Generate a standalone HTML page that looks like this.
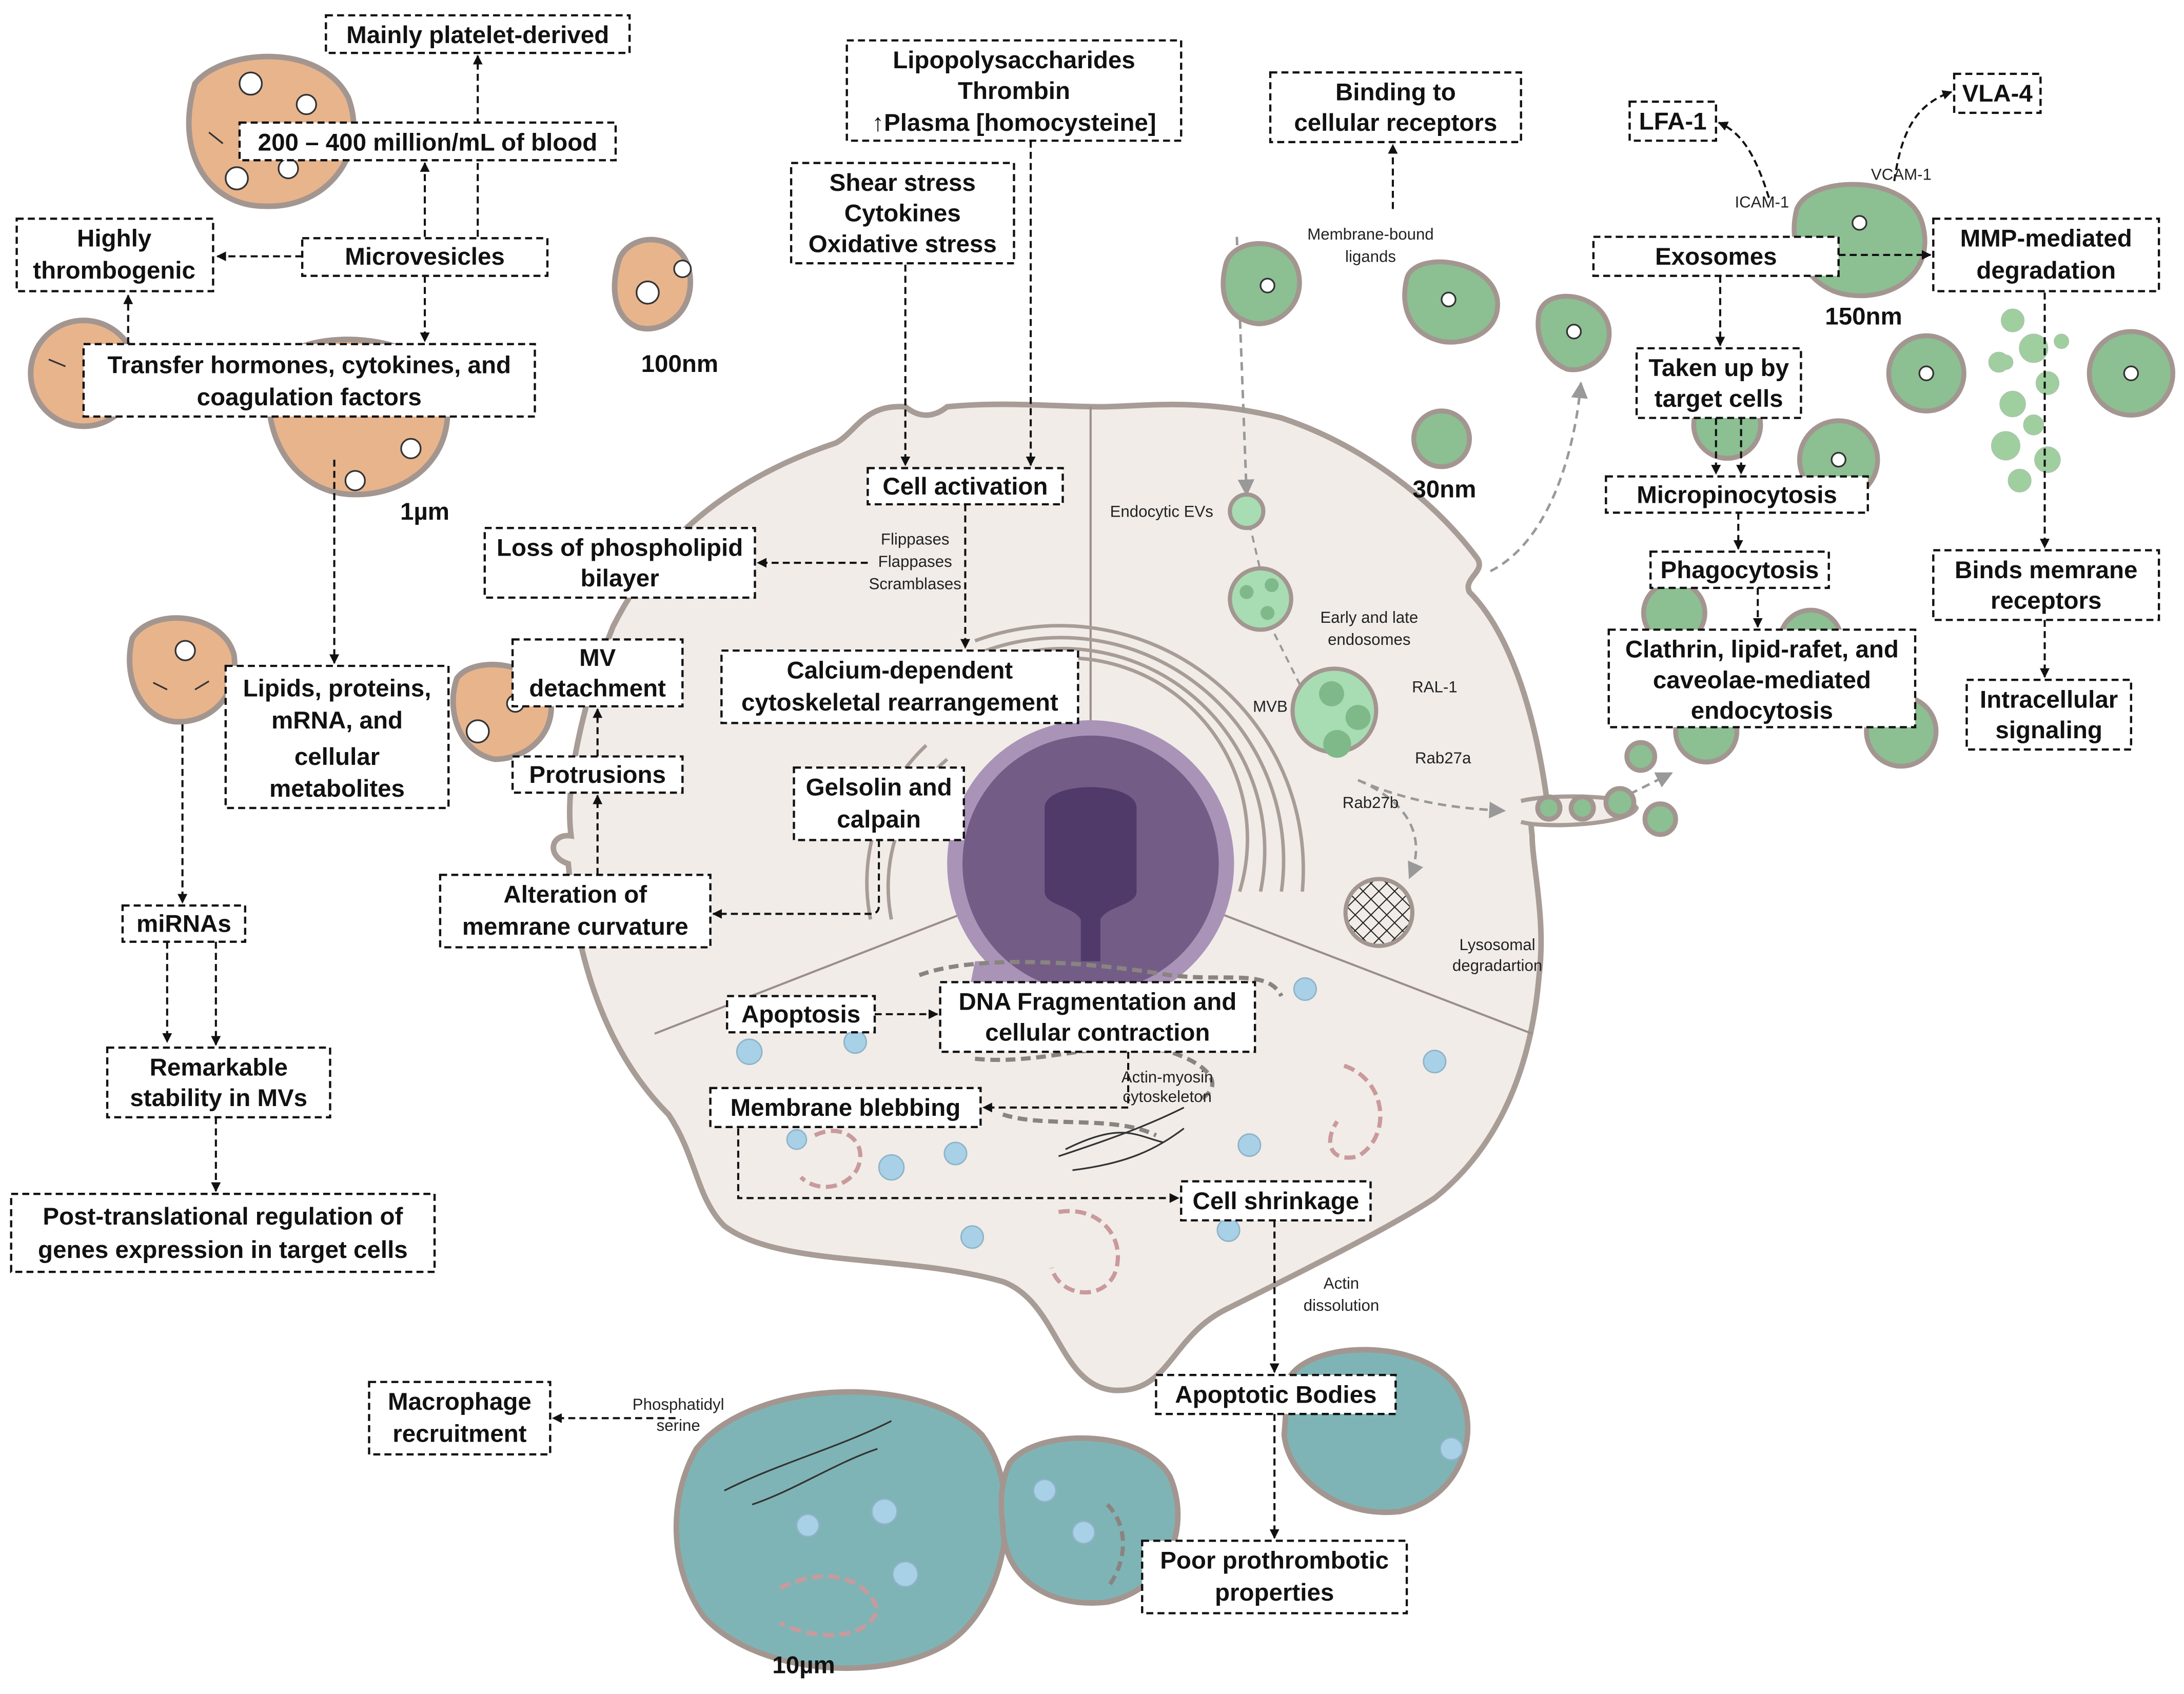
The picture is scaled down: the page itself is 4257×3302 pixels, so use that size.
<!DOCTYPE html>
<html><head><meta charset="utf-8"><style>
html,body{margin:0;padding:0;background:#fff}
svg{display:block}
.b{fill:#fff;stroke:#111;stroke-width:1.6;stroke-dasharray:5 3}
.t{font-family:"Liberation Sans",sans-serif;font-weight:bold;font-size:17.5px;fill:#111;text-anchor:middle}
.s{font-family:"Liberation Sans",sans-serif;font-size:11.5px;fill:#222;text-anchor:middle}
.a{fill:none;stroke:#111;stroke-width:1.5;stroke-dasharray:5 3}
.g{fill:none;stroke:#999;stroke-width:1.8;stroke-dasharray:6 4}
.o{fill:#e8b48c;stroke:#a39690;stroke-width:4}
.gr{fill:#8cbf92;stroke:#a39690;stroke-width:3.5}
.tl{fill:#7fb4b6;stroke:#a39690;stroke-width:4}
.ln{stroke:#333;stroke-width:1.2;fill:none}
</style></head><body>
<svg width="4257" height="3302" viewBox="0 0 1568 1216" preserveAspectRatio="none" xmlns="http://www.w3.org/2000/svg">
<defs>
<marker id="m" viewBox="0 0 10 10" refX="9" refY="5" markerWidth="7" markerHeight="7" orient="auto" markerUnits="userSpaceOnUse"><path d="M0,0L10,5L0,10z" fill="#111"/></marker>
<marker id="mg" viewBox="0 0 10 10" refX="9" refY="5" markerWidth="12" markerHeight="12" orient="auto" markerUnits="userSpaceOnUse"><path d="M0,0L10,5L0,10z" fill="#999"/></marker>
<pattern id="hx" width="8" height="8" patternUnits="userSpaceOnUse" patternTransform="rotate(45)"><path d="M0,0H8M0,0V8" stroke="#222" stroke-width="1.5"/></pattern>
</defs>

<!-- main cell -->
<path d="M650,292 C620,290 615,310 600,318 C520,345 470,390 440,450 C420,500 405,560 410,600 C395,598 392,615 408,620 C415,700 440,760 480,800 C500,830 500,860 520,880 C560,910 650,900 720,920 C760,935 760,995 800,998 C840,1000 840,960 880,940 C940,910 1000,880 1030,860 C1080,820 1100,760 1105,700 C1110,660 1100,620 1100,600 C1098,585 1100,580 1110,582 L1110,570 C1100,500 1080,450 1055,425 C1050,415 1068,410 1060,400 C1030,360 980,320 920,300 C860,285 820,292 790,292 C760,292 720,288 680,292 C670,300 660,300 650,292 Z" fill="#f1ece8" stroke="#a89c96" stroke-width="4"/>
<!-- right notch channel -->
<path d="M1092,575 C1110,570 1170,570 1175,580 C1170,592 1110,595 1092,590" fill="#f1ece8" stroke="#a89c96" stroke-width="3"/>
<!-- dividing lines -->
<line x1="783" y1="292" x2="783" y2="620" stroke="#9a8e88" stroke-width="1.5"/>
<line x1="783" y1="620" x2="470" y2="742" stroke="#9a8e88" stroke-width="1.5"/>
<line x1="783" y1="620" x2="1100" y2="742" stroke="#9a8e88" stroke-width="1.5"/>
<!-- golgi arcs -->
<g fill="none" stroke="#a89c96" stroke-width="2.5">
<path d="M700,490 A130,130 0 0 1 890,640"/><path d="M700,480 A145,145 0 0 1 905,640"/>
<path d="M700,470 A160,160 0 0 1 920,640"/><path d="M700,460 A175,175 0 0 1 935,640"/>
<path d="M680,545 A120,120 0 0 0 640,660"/><path d="M665,535 A135,135 0 0 0 625,660"/>
</g>
<!-- nucleus -->
<g>
<path d="M700,690 l-5,25 15,-10 5,25 12,-15 8,25 10,-20 12,22 10,-22 12,22 10,-22 12,18 8,-25 14,15 2,-25 15,12 -5,-25z" fill="#a994b8"/>
<circle cx="783" cy="620" r="103" fill="#a994b8"/>
<circle cx="783" cy="620" r="92" fill="#735d87"/>
<path d="M750,580 C750,560 816,560 816,580 L816,640 C816,650 795,650 790,660 L790,690 L776,690 L776,660 C770,650 750,650 750,640z" fill="#4f3a6a"/>
</g>
<!-- endosomes etc -->
<line x1="895" y1="367" x2="905" y2="410" stroke="#999" stroke-width="1.5" stroke-dasharray="5 4"/>
<circle cx="895" cy="367" r="12" fill="#a8dcb2" stroke="#a39690" stroke-width="3"/>
<path d="M888,170 L895,355" class="g" marker-end="url(#mg)" transform="rotate(0)"/>
<circle cx="905" cy="430" r="22" fill="#a8dcb2" stroke="#a39690" stroke-width="3"/>
<circle cx="895" cy="425" r="5" fill="#7fb98a"/><circle cx="913" cy="420" r="5" fill="#7fb98a"/><circle cx="910" cy="440" r="5" fill="#7fb98a"/>
<line x1="915" y1="455" x2="935" y2="495" stroke="#999" stroke-width="1.5" stroke-dasharray="5 4"/>
<circle cx="958" cy="510" r="30" fill="#a8dcb2" stroke="#a39690" stroke-width="3"/>
<circle cx="956" cy="498" r="9" fill="#7fb98a"/><circle cx="975" cy="515" r="9" fill="#7fb98a"/><circle cx="960" cy="534" r="10" fill="#7fb98a"/>
<circle cx="990" cy="655" r="24" fill="url(#hx)" stroke="#a39690" stroke-width="3"/>
<path d="M975,560 C1010,575 1040,580 1080,582" class="g" marker-end="url(#mg)"/>
<path d="M975,560 C1010,575 1025,600 1012,630" class="g" marker-end="url(#mg)"/>
<path d="M1070,410 C1110,390 1130,330 1135,275" class="g" marker-end="url(#mg)"/>
<!-- small vesicles in notch -->
<circle cx="1112" cy="580" r="8" class="gr" stroke-width="2"/><circle cx="1136" cy="580" r="8" class="gr" stroke-width="2"/>
<circle cx="1163" cy="576" r="10" class="gr" stroke-width="2"/><circle cx="1192" cy="588" r="11" class="gr" stroke-width="2"/>
<circle cx="1178" cy="543" r="10" class="gr" stroke-width="2"/>
<path d="M1170,570 L1200,555" class="g" marker-end="url(#mg)"/>
<!-- blue dots & pink dashed organelles -->
<g fill="#a8d0e6" stroke="#8fb3c8" stroke-width="1">
<circle cx="538" cy="755" r="9"/><circle cx="614" cy="748" r="8"/><circle cx="572" cy="818" r="7"/><circle cx="640" cy="838" r="9"/><circle cx="686" cy="828" r="8"/>
<circle cx="937" cy="710" r="8"/><circle cx="1030" cy="762" r="8"/><circle cx="897" cy="822" r="8"/><circle cx="882" cy="883" r="8"/><circle cx="698" cy="888" r="8"/>
</g>
<g fill="none" stroke="#c99a9c" stroke-width="3" stroke-dasharray="8 4">
<path d="M585,815 c20,-10 40,5 30,25 c-10,15 -30,15 -40,5"/><path d="M965,765 c30,10 35,50 10,65 c-20,5 -25,-10 -15,-25"/>
<path d="M760,870 c30,-5 50,20 40,45 c-10,20 -40,15 -45,-5"/>
</g>
<g fill="none" stroke="#8a8480" stroke-width="3" stroke-dasharray="7 4">
<path d="M660,700 c40,-15 120,-10 180,0 c40,5 70,-5 80,15"/><path d="M700,760 c50,5 90,-15 140,-5 c30,10 40,25 20,35"/><path d="M720,800 c30,10 80,0 110,15"/>
</g>
<path d="M760,830 c30,-10 60,-20 90,-35 M770,840 c40,-5 60,-15 80,-30 M765,825 c40,-20 50,-10 70,-5" class="ln" stroke="#7a9a88"/>

<!-- orange microvesicles -->
<path d="M140,60 C160,35 230,30 250,70 C265,110 235,150 190,148 C150,148 125,110 140,60Z" class="o"/>
<circle cx="60" cy="268" r="38" class="o"/>
<path d="M195,265 C210,235 300,235 318,275 C332,320 300,355 255,355 C210,355 185,310 195,265Z" class="o"/>
<path d="M445,185 C455,165 490,168 495,195 C500,225 475,240 458,235 C440,228 438,205 445,185Z" class="o"/>
<path d="M95,458 C110,435 160,440 168,470 C172,500 150,520 125,518 C100,515 88,485 95,458Z" class="o"/>
<path d="M328,487 C340,470 385,475 395,500 C400,525 380,545 355,545 C330,540 320,510 328,487Z" class="o"/>
<g class="ln"><circle cx="180" cy="60" r="8" fill="#fff"/><circle cx="220" cy="75" r="7" fill="#fff"/><circle cx="170" cy="128" r="8" fill="#fff"/><circle cx="207" cy="121" r="7" fill="#fff"/>
<circle cx="465" cy="210" r="8" fill="#fff"/><circle cx="490" cy="193" r="6" fill="#fff"/><circle cx="255" cy="345" r="7" fill="#fff"/><circle cx="295" cy="322" r="7" fill="#fff"/><circle cx="133" cy="467" r="7" fill="#fff"/><circle cx="343" cy="525" r="8" fill="#fff"/><circle cx="370" cy="505" r="6" fill="#fff"/>
<path d="M150,95 l10,8 M225,100 l8,-8 M110,490 l10,5 M140,495 l10,-6 M35,258 l12,5"/></g>

<!-- green exosomes -->
<g>
<path d="M880,190 C885,170 925,168 932,195 C938,220 915,235 900,232 C880,228 875,210 880,190Z" class="gr"/>
<path d="M1010,200 C1015,180 1070,185 1075,215 C1078,240 1050,248 1035,245 C1012,240 1005,220 1010,200Z" class="gr"/>
<path d="M1105,225 C1110,205 1150,210 1155,235 C1158,255 1140,268 1125,265 C1108,258 1102,240 1105,225Z" class="gr"/>
<circle cx="1035" cy="315" r="20" class="gr"/>
<path d="M1290,150 C1300,125 1370,125 1380,160 C1390,195 1360,215 1330,212 C1300,210 1282,180 1290,150Z" class="gr"/>
<circle cx="1383" cy="268" r="27" class="gr"/><circle cx="1530" cy="268" r="30" class="gr"/>
<circle cx="1320" cy="330" r="28" class="gr"/><circle cx="1240" cy="305" r="24" class="gr"/>
<circle cx="1202" cy="440" r="22" class="gr"/><circle cx="1300" cy="460" r="22" class="gr"/><circle cx="1225" cy="525" r="22" class="gr"/><circle cx="1365" cy="525" r="25" class="gr"/>
</g>
<g fill="#9fcf9f" stroke="#a8c8a8" stroke-width="1">
<circle cx="1445" cy="230" r="8"/><circle cx="1460" cy="250" r="10"/><circle cx="1435" cy="260" r="7"/><circle cx="1470" cy="275" r="8"/><circle cx="1445" cy="290" r="9"/><circle cx="1460" cy="305" r="7"/>
<circle cx="1440" cy="320" r="10"/><circle cx="1470" cy="330" r="9"/><circle cx="1450" cy="345" r="8"/><circle cx="1440" cy="260" r="5"/><circle cx="1480" cy="245" r="5"/>
</g>
<g class="ln" stroke="#333"><circle cx="910" cy="205" r="5" fill="#fff"/><circle cx="1040" cy="215" r="5" fill="#fff"/><circle cx="1130" cy="238" r="5" fill="#fff"/><circle cx="1335" cy="160" r="5" fill="#fff"/><circle cx="1320" cy="330" r="5" fill="#fff"/><circle cx="1530" cy="268" r="5" fill="#fff"/><circle cx="1383" cy="268" r="5" fill="#fff"/></g>

<!-- apoptotic bodies -->
<path d="M500,1040 C540,990 660,985 705,1030 C735,1070 725,1150 680,1180 C630,1210 540,1200 505,1160 C480,1125 480,1075 500,1040Z" class="tl"/>
<path d="M725,1050 C745,1025 820,1025 840,1060 C855,1095 840,1140 795,1150 C750,1155 720,1130 720,1095 C718,1080 718,1065 725,1050Z" class="tl"/>
<path d="M925,990 C940,962 1020,960 1045,995 C1065,1025 1050,1075 1005,1085 C960,1090 925,1060 922,1030Z" class="tl"/>
<g fill="#a8d0e6" stroke="#8fb3c8"><circle cx="635" cy="1085" r="9"/><circle cx="580" cy="1095" r="8"/><circle cx="650" cy="1130" r="9"/><circle cx="750" cy="1070" r="8"/><circle cx="778" cy="1100" r="8"/><circle cx="1042" cy="1040" r="8"/></g>
<path d="M560,1140 c30,-15 60,-10 70,15 c-5,20 -40,25 -70,10" fill="none" stroke="#c99a9c" stroke-width="3" stroke-dasharray="8 4"/>
<path d="M795,1080 c15,15 15,40 0,60" fill="none" stroke="#8a8480" stroke-width="3" stroke-dasharray="7 4"/>
<path d="M520,1070 c40,-20 80,-30 120,-50 M540,1080 c30,-10 60,-30 90,-40" class="ln" stroke="#667"/>

<!-- connector arrows (black dashed) -->
<g class="a" marker-end="url(#m)">
<path d="M343,170 V40"/>
<path d="M305,170 V117"/>
<path d="M217,184 H156"/>
<path d="M305,198 V245"/>
<path d="M92,247 V212"/>
<path d="M240,330 V476"/>
<path d="M131,520 V648"/>
<path d="M155,676 V750"/>
<path d="M120,676 V748"/>
<path d="M155,802 V855"/>
<path d="M650,190 V334"/>
<path d="M740,101 V334"/>
<path d="M693,362 V465"/>
<path d="M623,404 H544"/>
<path d="M429,543 V509"/>
<path d="M429,628 V571"/>
<path d="M631,603 V650 Q631,656 625,656 H512"/>
<path d="M628,728 H673"/>
<path d="M810,755 V795 H706"/>
<path d="M530,810 V860 H846"/>
<path d="M915,876 V985"/>
<path d="M915,1015 V1104"/>
<path d="M485,1018 H397"/>
<path d="M1000,150 V104"/>
<path d="M1320,183 H1386"/>
<path d="M1235,198 V248"/>
<path d="M1232,300 V340"/>
<path d="M1250,300 V340" />
<path d="M1248,368 V394"/>
<path d="M1262,422 V450"/>
<path d="M1468,210 V393"/>
<path d="M1468,445 V486"/>
</g>
<path d="M1270,142 C1260,110 1250,95 1234,88" class="a" marker-end="url(#m)"/>
<path d="M1360,130 C1365,95 1375,75 1401,66" class="a" marker-end="url(#m)"/>

<!-- boxes -->
<g>
<rect class="b" x="234" y="11" width="218" height="27"/><text class="t" x="343" y="31">Mainly platelet-derived</text>
<rect class="b" x="172" y="88" width="270" height="27"/><text class="t" x="307" y="108">200 – 400 million/mL of blood</text>
<rect class="b" x="12" y="157" width="141" height="52"/><text class="t" x="82" y="177">Highly</text><text class="t" x="82" y="200">thrombogenic</text>
<rect class="b" x="217" y="171" width="176" height="27"/><text class="t" x="305" y="190">Microvesicles</text>
<rect class="b" x="60" y="247" width="324" height="52"/><text class="t" x="222" y="268">Transfer hormones, cytokines, and</text><text class="t" x="222" y="291">coagulation factors</text>
<rect class="b" x="608" y="29" width="240" height="72"/><text class="t" x="728" y="49">Lipopolysaccharides</text><text class="t" x="728" y="71">Thrombin</text><text class="t" x="728" y="94">↑Plasma [homocysteine]</text>
<rect class="b" x="568" y="117" width="160" height="72"/><text class="t" x="648" y="137">Shear stress</text><text class="t" x="648" y="159">Cytokines</text><text class="t" x="648" y="181">Oxidative stress</text>
<rect class="b" x="912" y="52" width="180" height="50"/><text class="t" x="1002" y="72">Binding to</text><text class="t" x="1002" y="94">cellular receptors</text>
<rect class="b" x="1170" y="73" width="62" height="28"/><text class="t" x="1201" y="93">LFA-1</text>
<rect class="b" x="1403" y="53" width="62" height="28"/><text class="t" x="1434" y="73">VLA-4</text>
<rect class="b" x="1144" y="170" width="176" height="28"/><text class="t" x="1232" y="190">Exosomes</text>
<rect class="b" x="1388" y="157" width="162" height="52"/><text class="t" x="1469" y="177">MMP-mediated</text><text class="t" x="1469" y="200">degradation</text>
<rect class="b" x="1175" y="250" width="118" height="50"/><text class="t" x="1234" y="270">Taken up by</text><text class="t" x="1234" y="292">target cells</text>
<rect class="b" x="1153" y="342" width="188" height="26"/><text class="t" x="1247" y="361">Micropinocytosis</text>
<rect class="b" x="1185" y="396" width="128" height="26"/><text class="t" x="1249" y="415">Phagocytosis</text>
<rect class="b" x="1155" y="452" width="220" height="70"/><text class="t" x="1265" y="472">Clathrin, lipid-rafet, and</text><text class="t" x="1265" y="494">caveolae-mediated</text><text class="t" x="1265" y="516">endocytosis</text>
<rect class="b" x="1388" y="395" width="162" height="50"/><text class="t" x="1469" y="415">Binds memrane</text><text class="t" x="1469" y="437">receptors</text>
<rect class="b" x="1412" y="488" width="118" height="50"/><text class="t" x="1471" y="508">Intracellular</text><text class="t" x="1471" y="530">signaling</text>
<rect class="b" x="623" y="336" width="140" height="26"/><text class="t" x="693" y="355">Cell activation</text>
<rect class="b" x="348" y="379" width="194" height="50"/><text class="t" x="445" y="399">Loss of phospholipid</text><text class="t" x="445" y="421">bilayer</text>
<rect class="b" x="368" y="459" width="122" height="48"/><text class="t" x="429" y="478">MV</text><text class="t" x="429" y="500">detachment</text>
<rect class="b" x="518" y="467" width="256" height="52"/><text class="t" x="646" y="487">Calcium-dependent</text><text class="t" x="646" y="510">cytoskeletal rearrangement</text>
<rect class="b" x="368" y="543" width="122" height="26"/><text class="t" x="429" y="562">Protrusions</text>
<rect class="b" x="570" y="551" width="122" height="52"/><text class="t" x="631" y="571">Gelsolin and</text><text class="t" x="631" y="594">calpain</text>
<rect class="b" x="316" y="628" width="194" height="52"/><text class="t" x="413" y="648">Alteration of</text><text class="t" x="413" y="671">memrane curvature</text>
<rect class="b" x="162" y="478" width="160" height="102"/><text class="t" x="242" y="500">Lipids, proteins,</text><text class="t" x="242" y="523">mRNA, and</text><text class="t" x="242" y="549">cellular</text><text class="t" x="242" y="572">metabolites</text>
<rect class="b" x="88" y="650" width="88" height="26"/><text class="t" x="132" y="669">miRNAs</text>
<rect class="b" x="77" y="752" width="160" height="50"/><text class="t" x="157" y="772">Remarkable</text><text class="t" x="157" y="794">stability in MVs</text>
<rect class="b" x="8" y="857" width="304" height="56"/><text class="t" x="160" y="879">Post-translational regulation of</text><text class="t" x="160" y="903">genes expression in target cells</text>
<rect class="b" x="522" y="715" width="106" height="26"/><text class="t" x="575" y="734">Apoptosis</text>
<rect class="b" x="675" y="705" width="226" height="50"/><text class="t" x="788" y="725">DNA Fragmentation and</text><text class="t" x="788" y="747">cellular contraction</text>
<rect class="b" x="510" y="781" width="194" height="28"/><text class="t" x="607" y="801">Membrane blebbing</text>
<rect class="b" x="848" y="848" width="136" height="28"/><text class="t" x="916" y="868">Cell shrinkage</text>
<rect class="b" x="830" y="987" width="172" height="28"/><text class="t" x="916" y="1007">Apoptotic Bodies</text>
<rect class="b" x="265" y="992" width="130" height="52"/><text class="t" x="330" y="1012">Macrophage</text><text class="t" x="330" y="1035">recruitment</text>
<rect class="b" x="820" y="1106" width="190" height="52"/><text class="t" x="915" y="1126">Poor prothrombotic</text><text class="t" x="915" y="1149">properties</text>
</g>

<!-- small labels -->
<g class="s">
<text x="657" y="391">Flippases</text><text x="657" y="407">Flappases</text><text x="657" y="423">Scramblases</text>
<text x="834" y="371">Endocytic EVs</text>
<text x="983" y="447">Early and late</text><text x="983" y="463">endosomes</text>
<text x="912" y="511">MVB</text><text x="1030" y="497">RAL-1</text><text x="1036" y="548">Rab27a</text><text x="984" y="580">Rab27b</text>
<text x="1075" y="682">Lysosomal</text><text x="1075" y="697">degradartion</text>
<text x="984" y="172">Membrane-bound</text><text x="984" y="188">ligands</text>
<text x="1265" y="149">ICAM-1</text><text x="1365" y="129">VCAM-1</text>
<text x="838" y="777">Actin-myosin</text><text x="838" y="791">cytoskeleton</text>
<text x="963" y="925">Actin</text><text x="963" y="941">dissolution</text>
<text x="487" y="1012">Phosphatidyl</text><text x="487" y="1027">serine</text>
</g>
<g class="t">
<text x="488" y="267">100nm</text><text x="305" y="373">1µm</text><text x="1037" y="357">30nm</text><text x="1338" y="233">150nm</text><text x="577" y="1201">10µm</text>
</g>
</svg>
</body></html>
